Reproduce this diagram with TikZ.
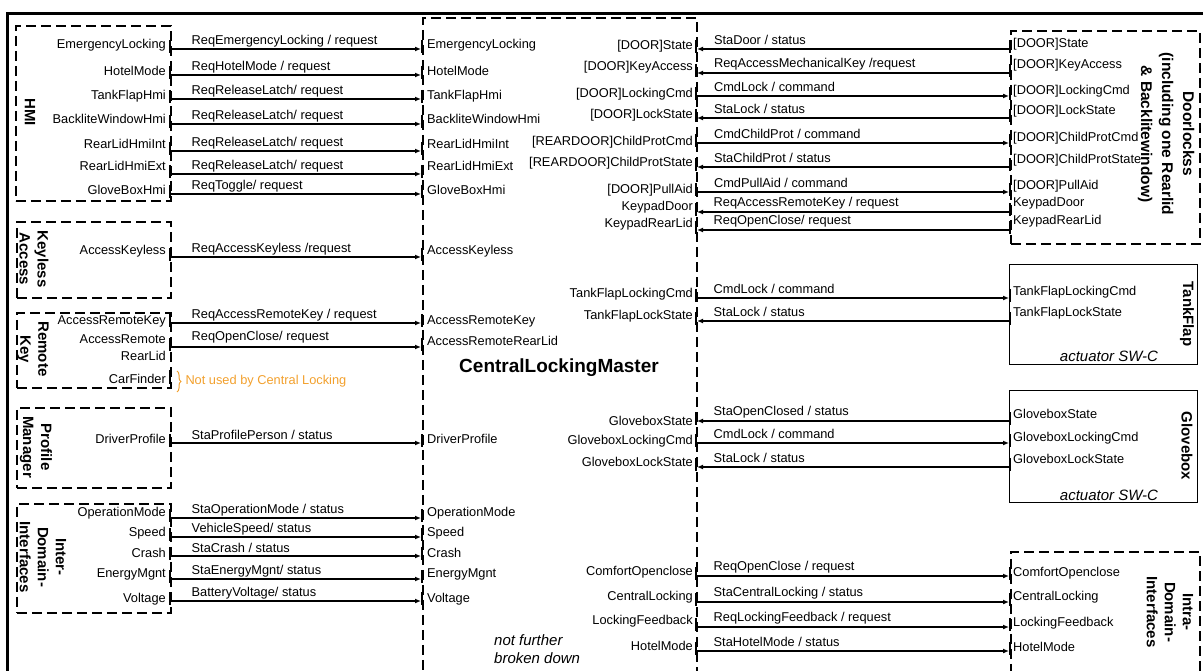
\documentclass[tikz,border=0pt]{standalone}
\usepackage{fontspec}
\setmainfont{Liberation Sans}
\usetikzlibrary{arrows.meta,decorations.pathreplacing}
\definecolor{noteorange}{RGB}{242,160,45}

\begin{document}
\begin{tikzpicture}[x=1pt, y=-1pt,
      grp/.style = {draw, dash pattern=on 10pt off 5pt, line width=1.8pt,
        inner sep=0pt, anchor=north west},
      swc/.style = {draw, line width=1.4pt, inner sep=0pt, anchor=north west},
      plbl/.style = {inner sep=1pt, font=\fontsize{12.8}{15}\selectfont},
      slbl/.style = {anchor=west, inner sep=1pt, font=\fontsize{12.8}{15}\selectfont},
      ttl/.style = {rotate=-90, align=center, inner sep=0pt,
        font=\bfseries\fontsize{15}{18}\selectfont},
      sig/.style = {line width=1.4pt},
      tor/.style = {-{Latex[length=6pt,width=5pt]}},
      tol/.style = {{Latex[length=6pt,width=5pt]}-},
      dtor/.style = {tor, line width=2.1pt},
      dtol/.style = {tol, line width=2.1pt},
      tick/.style = {line width=1.4pt}]
  \useasboundingbox (0,0) rectangle (1203,671);
  \draw[line width=2.6pt] (7.5,690) |- (1215,13.5);

  \node[grp, minimum width=155, minimum height=175] (hmi) at (15,25) {};
  \node[grp, minimum width=154, minimum height=76] (keyless) at (16,221) {};
  \node[grp, minimum width=154, minimum height=75] (remote) at (16,312) {};
  \node[grp, minimum width=154, minimum height=80] (profile) at (16,407) {};
  \node[grp, minimum width=154, minimum height=109] (interdom) at (16,503) {};
  \node[grp, minimum width=274, minimum height=700] (clm) at (422,17) {};
  \node[grp, minimum width=189, minimum height=213] (doorlocks) at (1010,30) {};
  \node[swc, minimum width=188, minimum height=100] (tankflap) at (1009,264) {};
  \node[swc, minimum width=188, minimum height=112] (glovebox) at (1009,390) {};
  \node[grp, minimum width=189, minimum height=200] (intradom) at (1010,551) {};

  \node[ttl] (hmi-t) at (30,112) {HMI};
  \node[ttl] (keyless-t) at (34,259) {Keyless\\Access};
  \node[ttl] (remote-t) at (33,349) {Remote\\Key};
  \node[ttl] (profile-t) at (36,447) {Profile\\Manager};
  \node[ttl] (interdom-t) at (43,557) {Inter-\\Domain-\\Interfaces};
  \node[ttl, font=\bfseries\fontsize{15.5}{21}\selectfont] (doorlocks-t) at (1166,134)
    {Doorlockss\\(including one Rearlid\\\& Backlitewindow)};
  \node[ttl] (tankflap-t) at (1187,314) {TankFlap};
  \node[ttl] (glovebox-t) at (1187,446) {Glovebox};
  \node[ttl] (intradom-t) at (1170,612) {Intra-\\Domain-\\Interfaces};

  \node[font=\bfseries\fontsize{19}{22}\selectfont] (clm-t) at (559,368) {CentralLockingMaster};
  \node[font=\itshape\fontsize{15}{18}\selectfont] (tankflap-a) at (1109,356) {actuator SW-C};
  \node[font=\itshape\fontsize{15}{18}\selectfont] (glovebox-a) at (1109,495) {actuator SW-C};
  \node[anchor=west, align=left, inner sep=0pt, font=\itshape\fontsize{15}{18}\selectfont]
    (nfbd) at (494,649) {not further\\broken down};

  \foreach \y/\ly/\src/\sig [count=\i] in {
      49/45/EmergencyLocking/{ReqEmergencyLocking / request},
      75/71/HotelMode/{ReqHotelMode / request},
      99/96/TankFlapHmi/{ReqReleaseLatch/ request},
      124/119/BackliteWindowHmi/{ReqReleaseLatch/ request},
      151/144/RearLidHmiInt/{ReqReleaseLatch/ request},
      174/166/RearLidHmiExt/{ReqReleaseLatch/ request},
      194/190/GloveBoxHmi/{ReqToggle/ request},
      257/251/AccessKeyless/{ReqAccessKeyless /request},
      323/321/AccessRemoteKey/{ReqAccessRemoteKey  / request},
      443/439/DriverProfile/{StaProfilePerson / status},
      518/513/OperationMode/{StaOperationMode / status},
      537/533/Speed/{VehicleSpeed/ status},
      556/553/Crash/{StaCrash / status},
      579/574/EnergyMgnt/{StaEnergyMgnt/ status},
      601/599/Voltage/{BatteryVoltage/ status}} {
    \coordinate (in-out\i) at (170,\y);
    \coordinate (clm-in\i) at (421,\y);
    \node[plbl, anchor=east] (in-p\i) at (167,\ly) {\src};
    \node[plbl, anchor=west] (clm-p\i) at (426,\ly) {\src};
    \draw[sig,tor] (in-out\i) -- node[slbl, pos=0, xshift=20pt, yshift=8pt] {\sig} (clm-in\i);
    \draw[tick] (in-out\i) ++(0,-9) -- ++(0,13);
    \draw[tick] (clm-in\i) ++(1,-9) -- ++(0,13);
  }

  \coordinate (rk-out) at (170,347);
  \coordinate (clm-rk) at (421,347);
  \node[plbl, anchor=east] (rk-ar) at (167,339) {AccessRemote};
  \node[plbl, anchor=east] (rk-rl) at (167,356) {RearLid};
  \node[plbl, anchor=west] (clm-arl) at (426,341) {AccessRemoteRearLid};
  \draw[sig,tor] (rk-out) -- node[slbl, pos=0, xshift=20pt, yshift=10pt] {ReqOpenClose/ request} (clm-rk);
  \draw[tick] (rk-out) ++(0,-9) -- ++(0,13);
  \draw[tick] (clm-rk) ++(1,-9) -- ++(0,13);
  \node[plbl, anchor=east] (rk-cf) at (167,379) {CarFinder};
  \draw[tick] (170,370) -- (170,384);
  \coordinate (cf-top) at (177,371);
  \coordinate (cf-bot) at (177,392);
  \draw[noteorange, line width=1pt, decorate, decoration={brace, amplitude=4pt}] (cf-top) -- (cf-bot)
    node[midway, anchor=west, xshift=8pt, inner sep=0pt, text=noteorange,
      font=\fontsize{12.8}{15}\selectfont] (cf-note) {Not used by Central Locking};

  \foreach \y/\ly/\bly/\cp/\bp/\sig/\dir [count=\i] in {
      49/46/44/{[DOOR]State}/{[DOOR]State}/{StaDoor / status}/dtol,
      73/67/65/{[DOOR]KeyAccess}/{[DOOR]KeyAccess}/{ReqAccessMechanicalKey /request}/dtol,
      96/94/91/{[DOOR]LockingCmd}/{[DOOR]LockingCmd}/{CmdLock / command}/dtor,
      118/115/111/{[DOOR]LockState}/{[DOOR]LockState}/{StaLock / status}/dtol,
      143/142/138/{[REARDOOR]ChildProtCmd}/{[DOOR]ChildProtCmd}/{CmdChildProt / command}/dtor,
      167/163/160/{[REARDOOR]ChildProtState}/{[DOOR]ChildProtState}/{StaChildProt / status}/dtol,
      192/190/186/{[DOOR]PullAid}/{[DOOR]PullAid}/{CmdPullAid / command}/dtor,
      212/207/203/KeypadDoor/KeypadDoor/{ReqAccessRemoteKey / request}/tol,
      230/224/221/KeypadRearLid/KeypadRearLid/{ReqOpenClose/ request}/tol,
      298/294/292/TankFlapLockingCmd/TankFlapLockingCmd/{CmdLock / command}/tor,
      321/316/313/TankFlapLockState/TankFlapLockState/{StaLock / status}/tol,
      421/421/414/GloveboxState/GloveboxState/{StaOpenClosed / status}/tol,
      443/441/438/GloveboxLockingCmd/GloveboxLockingCmd/{CmdLock / command}/tor,
      467/462/459/GloveboxLockState/GloveboxLockState/{StaLock / status}/tol,
      576/572/573/ComfortOpenclose/ComfortOpenclose/{ReqOpenClose / request}/tor,
      602/597/597/CentralLocking/CentralLocking/{StaCentralLocking / status}/tor,
      627/621/623/LockingFeedback/LockingFeedback/{ReqLockingFeedback / request}/tor,
      651/646/647/HotelMode/HotelMode/{StaHotelMode / status}/tor} {
    \coordinate (clm-out\i) at (697,\y);
    \coordinate (act-in\i) at (1009,\y);
    \node[plbl, anchor=east] (clm-q\i) at (694,\ly) {\cp};
    \node[plbl, anchor=west] (act-p\i) at (1012,\bly) {\bp};
    \draw[sig,\dir] (clm-out\i) -- node[slbl, pos=0, xshift=15pt, yshift=9pt] {\sig} (act-in\i);
    \draw[tick] (clm-out\i) ++(-1,-9) -- ++(0,13);
    \draw[tick] (act-in\i) ++(1,-9) -- ++(0,13);
  }
\end{tikzpicture}
\end{document}
